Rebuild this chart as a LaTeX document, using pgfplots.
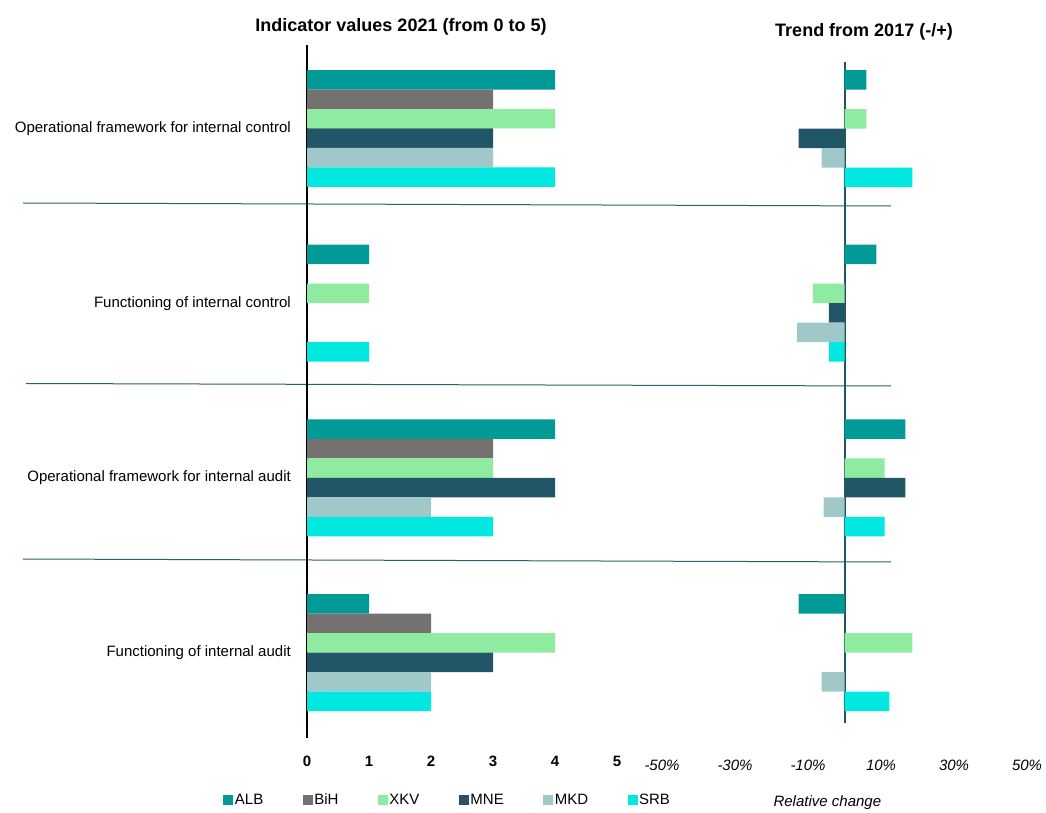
\documentclass[border=0pt]{standalone}
\usepackage{pgfplots}
\pgfplotsset{compat=1.18}
\usepackage{fontspec}
\setmainfont{Liberation Sans}

\definecolor{alb}{HTML}{009B96}
\definecolor{bih}{HTML}{757170}
\definecolor{xkv}{HTML}{8EEB9F}
\definecolor{mne}{HTML}{205665}
\definecolor{mkd}{HTML}{A1C8C9}
\definecolor{srb}{HTML}{00E8E0}
\definecolor{rule}{HTML}{2B5F6C}

\newcommand\fs{\fontsize{15}{18}\selectfont}

\pgfplotsset{
  panel/.style={
    scale only axis, xbar,
    bar width=0.1116,
    major tick length=0pt,
    /pgf/number format/assume math mode=true,
    x axis line style={draw=none},
  },
  sq/.style={draw=none, legend image code/.code={\fill[##1] (0pt,-5pt) rectangle (10pt,5pt);}},
  s0/.style={sq, fill=alb, bar shift=0.279},
  s1/.style={sq, fill=bih, bar shift=0.1674},
  s2/.style={sq, fill=xkv, bar shift=0.0558},
  s3/.style={sq, fill=mne, bar shift=-0.0558},
  s4/.style={sq, fill=mkd, bar shift=-0.1674},
  s5/.style={sq, fill=srb, bar shift=-0.279},
}

\begin{document}
\begin{tikzpicture}
\useasboundingbox (0,0) rectangle (1046pt,812pt);

% group separators
\draw[rule, line width=1pt] (23pt,609pt) -- (891pt,606pt);
\draw[rule, line width=1pt] (26pt,428.5pt) -- (891pt,426pt);
\draw[rule, line width=1pt] (23pt,253pt) -- (891pt,250pt);

\node[font=\fontsize{18}{21}\selectfont\bfseries] at (401pt,785pt) {Indicator values 2021 (from 0 to 5)};
\node[font=\fontsize{18}{21}\selectfont\bfseries] at (864pt,780pt) {Trend from 2017 (-/+)};

% left panel: indicator values
\begin{axis}[panel,
  at={(307pt,74pt)}, anchor=south west,
  width=310pt, height=693pt,
  xmin=0, xmax=5, ymin=-0.489, ymax=3.478,
  axis lines*=left,
  y axis line style={line width=1.5pt, black},
  xtick={0,1,2,3,4,5},
  xticklabel style={font=\fs\bfseries, anchor=base, yshift=-28pt},
  ytick={0,1,2,3},
  yticklabels={Functioning of internal audit, Operational framework for internal audit,
    Functioning of internal control, Operational framework for internal control},
  yticklabel style={font=\fs, anchor=east, inner sep=0pt, xshift=-16pt},
  legend columns=6,
  legend style={at={(axis description cs:0.453,-0.0895)}, anchor=center, draw=none,
    font=\fs, inner xsep=0pt,
    /tikz/every even column/.append style={column sep=38pt},
    /tikz/every odd column/.append style={column sep=0pt},
    nodes={inner xsep=1.5pt}},
]
\addplot[s0] coordinates {(4,3) (1,2) (4,1) (1,0)};
\addplot[s1] coordinates {(3,3) (3,1) (2,0)};
\addplot[s2] coordinates {(4,3) (1,2) (3,1) (4,0)};
\addplot[s3] coordinates {(3,3) (4,1) (3,0)};
\addplot[s4] coordinates {(3,3) (2,1) (2,0)};
\addplot[s5] coordinates {(4,3) (1,2) (3,1) (2,0)};
\legend{ALB, BiH, XKV, MNE, MKD, SRB}
\end{axis}

% right panel: relative change since 2017
\begin{axis}[panel,
  at={(662pt,89pt)}, anchor=south west,
  width=365pt, height=661pt,
  xmin=-50, xmax=50, ymin=-0.403, ymax=3.381,
  axis y line*=middle, axis x line*=bottom,
  y axis line style={line width=2pt, mne},
  ytick=\empty,
  xtick={-50,-30,-10,10,30,50},
  xticklabels={-50\%,-30\%,-10\%,10\%,30\%,50\%},
  xticklabel style={font=\fs\itshape, anchor=base, yshift=-47pt},
  xlabel={Relative change},
  xlabel style={font=\fs\itshape, at={(axis description cs:0.453,0)}, anchor=base, yshift=-83.5pt},
]
\addplot[s0] coordinates {(6,3) (8.7,2) (16.7,1) (-12.6,0)};
\addplot[s2] coordinates {(6,3) (-8.7,2) (11,1) (18.6,0)};
\addplot[s3] coordinates {(-12.6,3) (-4.3,2) (16.7,1)};
\addplot[s4] coordinates {(-6.3,3) (-13,2) (-5.7,1) (-6.3,0)};
\addplot[s5] coordinates {(18.6,3) (-4.3,2) (11,1) (12.3,0)};
\end{axis}
\end{tikzpicture}
\end{document}
